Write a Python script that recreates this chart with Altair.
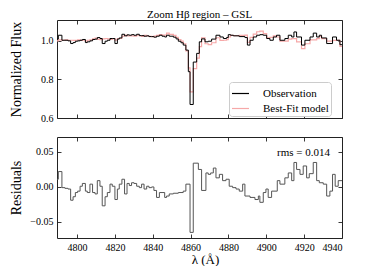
import altair as alt
import pandas as pd

FONT = "Liberation Serif"

# ---------------- data ----------------
wl_flux = [4789.4, 4790.1, 4792.0, 4793.6, 4795.2, 4796.6, 4797.9, 4799.1, 4800.3, 4801.6,
           4802.8, 4804.4, 4805.4, 4806.8, 4808.2, 4809.5, 4810.7, 4812.1, 4813.3, 4814.8,
           4816.0, 4817.4, 4818.6, 4820.0, 4821.3, 4822.3, 4823.7, 4825.1, 4826.4, 4827.6,
           4828.8, 4830.1, 4831.5, 4832.9, 4834.1, 4835.4, 4836.8, 4838.0, 4839.4, 4840.6,
           4842.0, 4843.5, 4844.9, 4846.3, 4847.3, 4848.7, 4850.9, 4852.3, 4853.5, 4854.9,
           4856.1, 4857.5, 4858.8, 4859.7, 4861.4, 4863.2, 4864.6, 4865.8, 4867.6, 4869.3,
           4871.1, 4873.4, 4875.5, 4877.3, 4879.0, 4879.9, 4881.1, 4882.6, 4885.7, 4888.7,
           4890.0, 4891.4, 4893.1, 4894.9, 4896.6, 4898.4, 4900.2, 4901.9, 4903.7, 4905.4,
           4907.2, 4909.8, 4911.6, 4913.4, 4914.6, 4916.0, 4918.6, 4920.4, 4923.1, 4924.8,
           4926.6, 4928.0, 4929.2, 4931.9, 4935.0, 4937.1, 4938.9, 4940.5]

obs_flux = [1.009, 1.029, 1.003, 1.003, 1.000, 0.986, 0.991, 0.998, 1.000, 1.003,
            1.007, 0.991, 0.995, 1.000, 1.007, 1.009, 1.017, 1.012, 0.986, 0.998,
            1.003, 1.012, 1.012, 0.986, 1.009, 1.015, 1.034, 1.026, 1.031, 1.029,
            1.032, 1.029, 1.034, 1.027, 1.027, 1.024, 1.026, 1.022, 1.022, 1.019,
            1.024, 1.029, 1.024, 1.020, 1.029, 1.024, 1.019, 1.010, 0.998, 0.990,
            0.978, 0.952, 0.840, 0.670, 0.890, 0.935, 0.995, 1.010, 0.995, 0.998,
            1.009, 1.029, 1.020, 1.012, 1.017, 1.032, 1.029, 1.026, 1.022, 1.017,
            0.978, 1.003, 1.020, 1.029, 1.032, 1.029, 1.012, 1.003, 1.020, 1.029,
            1.003, 1.012, 1.029, 1.020, 1.046, 1.020, 0.978, 1.003, 1.020, 1.040,
            1.020, 1.029, 1.015, 0.986, 1.020, 1.003, 0.980, 0.980]

model_flux = [1.000, 1.005, 1.003, 1.005, 1.003, 1.003, 1.002, 1.003, 1.005, 1.002,
              1.003, 0.998, 1.003, 1.005, 1.010, 1.014, 1.008, 1.006, 1.010, 1.012,
              1.010, 1.008, 1.011, 1.004, 1.012, 1.012, 1.024, 1.030, 1.026, 1.026,
              1.026, 1.024, 1.029, 1.027, 1.023, 1.028, 1.025, 1.023, 1.022, 1.024,
              1.028, 1.032, 1.030, 1.030, 1.040, 1.033, 1.028, 1.018, 1.006, 0.998,
              0.985, 0.948, 0.860, 0.735, 0.856, 0.910, 0.970, 1.015, 0.985, 0.980,
              0.990, 1.016, 1.002, 1.003, 1.006, 1.020, 1.028, 1.027, 1.028, 1.030,
              0.992, 1.018, 1.035, 1.047, 1.050, 1.037, 1.015, 1.018, 1.026, 1.020,
              0.999, 0.999, 1.009, 1.011, 1.011, 0.995, 0.960, 0.985, 1.005, 1.005,
              1.011, 1.023, 1.011, 0.999, 1.002, 1.002, 0.971, 0.971]

wl_res = [4789.4, 4790.1, 4792.0, 4793.6, 4795.2, 4796.6, 4797.9, 4799.1, 4800.3, 4801.6,
          4802.8, 4804.4, 4805.4, 4806.8, 4808.2, 4809.5, 4810.7, 4812.1, 4813.3, 4814.8,
          4816.0, 4817.4, 4818.6, 4820.0, 4821.3, 4822.3, 4823.7, 4825.1, 4826.4, 4827.6,
          4828.8, 4830.1, 4831.5, 4832.9, 4834.1, 4835.4, 4836.8, 4838.0, 4839.4, 4840.6,
          4842.0, 4843.5, 4844.9, 4846.3, 4847.3, 4848.7, 4850.9, 4853.5, 4856.1, 4857.5,
          4859.7, 4861.4, 4864.1, 4865.8, 4868.1, 4869.3, 4870.6, 4872.0, 4873.4, 4875.2,
          4876.9, 4878.7, 4880.4, 4882.2, 4884.0, 4885.7, 4887.5, 4888.7, 4891.4, 4894.0,
          4895.8, 4896.6, 4898.4, 4899.8, 4901.0, 4902.8, 4905.8, 4907.2, 4909.8, 4911.6,
          4913.4, 4914.6, 4916.0, 4917.8, 4919.5, 4921.3, 4922.7, 4924.8, 4926.6, 4928.0,
          4930.1, 4931.9, 4933.6, 4935.0, 4936.4, 4938.0, 4940.5]

residuals = [0.011, 0.022, -0.001, -0.002, -0.003, -0.019, -0.014, -0.008, -0.006, 0.001,
             0.005, -0.006, -0.008, 0.004, -0.008, -0.010, 0.009, 0.001, -0.027, -0.014,
             -0.008, 0.004, 0.001, -0.018, -0.003, 0.004, 0.011, -0.010, 0.005, 0.002,
             0.006, 0.005, 0.001, -0.001, 0.004, -0.003, 0.001, -0.001, 0.000, -0.005,
             -0.015, -0.008, -0.008, -0.015, -0.013, -0.010, -0.009, -0.008, -0.006, 0.004,
             -0.065, 0.034, 0.025, -0.005, 0.020, 0.018, 0.020, 0.027, 0.013, 0.018,
             0.009, 0.011, 0.001, -0.001, -0.003, -0.006, 0.004, -0.013, -0.015, -0.018,
             -0.013, -0.022, -0.008, -0.003, -0.015, -0.006, 0.009, 0.004, 0.013, 0.020,
             0.009, 0.035, 0.025, 0.018, 0.030, 0.013, 0.019, 0.035, 0.009, 0.006,
             0.004, -0.013, -0.006, 0.018, 0.001, 0.009, 0.009]

series_names = ["Observation", "Best-Fit model"]
series_colors = ["#000000", "#f6a8a8"]
rms_label = "rms = 0.014"
title_text = "Zoom H\u03b2 region \u2013 GSL"

x_ticks = [4800, 4820, 4840, 4860, 4880, 4900, 4920, 4940]
top_ticks = [0.6, 0.8, 1.0]
res_ticks = [-0.05, 0.0, 0.05]

# ---------------- tables ----------------
obs_df = pd.DataFrame({"wl": wl_flux, "flux": obs_flux, "series": series_names[0]})
mod_df = pd.DataFrame({"wl": wl_flux, "flux": model_flux, "series": series_names[1]})
res_df = pd.DataFrame({"wl": wl_res, "res": residuals})

W, H1, H2 = 285, 98, 101
xscale = alt.Scale(domain=[4789.4, 4940.0], nice=False, zero=False)
ytop = alt.Scale(domain=[0.6, 1.108], nice=False, zero=False)
yres = alt.Scale(domain=[-0.073, 0.0714], nice=False, zero=False)

tick_common = dict(tickSize=4, offset=-4, domain=False, grid=False,
                   tickColor="#222222", tickWidth=0.9,
                   labelFont=FONT, labelFontSize=10, labelColor="#000000",
                   titleFont=FONT, titleFontWeight="normal", titleColor="#000000")

def ax(orient, values, labels, title=None, **kw):
    d = dict(tick_common)
    d.update(kw)
    return alt.Axis(orient=orient, values=values, labels=labels, title=title, **d)

color = alt.Color("series:N",
                  scale=alt.Scale(domain=series_names, range=series_colors),
                  legend=alt.Legend(title=None, orient="none", legendX=172, legendY=62,
                                    symbolType="stroke", symbolSize=289, symbolStrokeWidth=1.2,
                                    labelFont=FONT, labelFontSize=11, labelOffset=13,
                                    rowPadding=-3, padding=2, strokeColor="#cccccc",
                                    cornerRadius=3, fillColor="#ffffff"))

model_line = alt.Chart(mod_df).mark_line(interpolate="step-after", strokeWidth=1.2, clip=True).encode(
    x=alt.X("wl:Q", scale=xscale, axis=ax("top", x_ticks, False)),
    y=alt.Y("flux:Q", scale=ytop, axis=ax("right", top_ticks, False)),
    color=color,
)
obs_line = alt.Chart(obs_df).mark_line(interpolate="step-after", strokeWidth=1.0, clip=True).encode(
    x=alt.X("wl:Q", scale=xscale, axis=ax("bottom", x_ticks, False)),
    y=alt.Y("flux:Q", scale=ytop,
            axis=ax("left", top_ticks, True, "Normalized Flux", format=".1f",
                    labelPadding=4, titleFontSize=14, titleX=-45, titleY=H1 / 2,
                    titleAngle=270, titleAlign="center", titleBaseline="middle")),
    color=color,
)
top = alt.layer(model_line, obs_line).resolve_axis(x="independent", y="independent").properties(
    width=W, height=H1,
    title=alt.TitleParams(title_text, font=FONT, fontSize=11, fontWeight="normal",
                          anchor="middle", offset=0, color="#000000"))

res_line = alt.Chart(res_df).mark_line(interpolate="step-after", strokeWidth=1.0, color="#555555", clip=True).encode(
    x=alt.X("wl:Q", scale=xscale,
            axis=ax("bottom", x_ticks, True, "\u03bb (\u00c5)", format="d", labelPadding=4,
                    titleFontSize=13, titleX=148, titleY=25, titleBaseline="middle")),
    y=alt.Y("res:Q", scale=yres,
            axis=ax("left", res_ticks, True, "Residuals",
                    labelExpr="datum.value < 0 ? '\u2212' + format(abs(datum.value), '.2f') : format(datum.value, '.2f')",
                    labelPadding=4, titleFontSize=14, titleX=-45, titleY=H2 / 2,
                    titleAngle=270, titleAlign="center", titleBaseline="middle")),
)
res_frame = alt.Chart(res_df).mark_line(strokeOpacity=0).encode(
    x=alt.X("wl:Q", scale=xscale, axis=ax("top", x_ticks, False)),
    y=alt.Y("res:Q", scale=yres, axis=ax("right", res_ticks, False)),
)
rms_text = alt.Chart(pd.DataFrame({"t": [rms_label]})).mark_text(
    font=FONT, fontSize=11, align="right", baseline="middle", color="#000000"
).encode(text="t:N", x=alt.value(273), y=alt.value(16))

bottom = alt.layer(res_line, res_frame, rms_text).resolve_axis(
    x="independent", y="independent").properties(width=W, height=H2)

chart = alt.vconcat(top, bottom, spacing=19, bounds="flush").properties(
    padding={"left": 0, "top": 0, "right": 0, "bottom": 0}
).configure_view(stroke="#222222", strokeWidth=1)

chart.save("out.html", embed_options={"renderer": "svg", "actions": False})
